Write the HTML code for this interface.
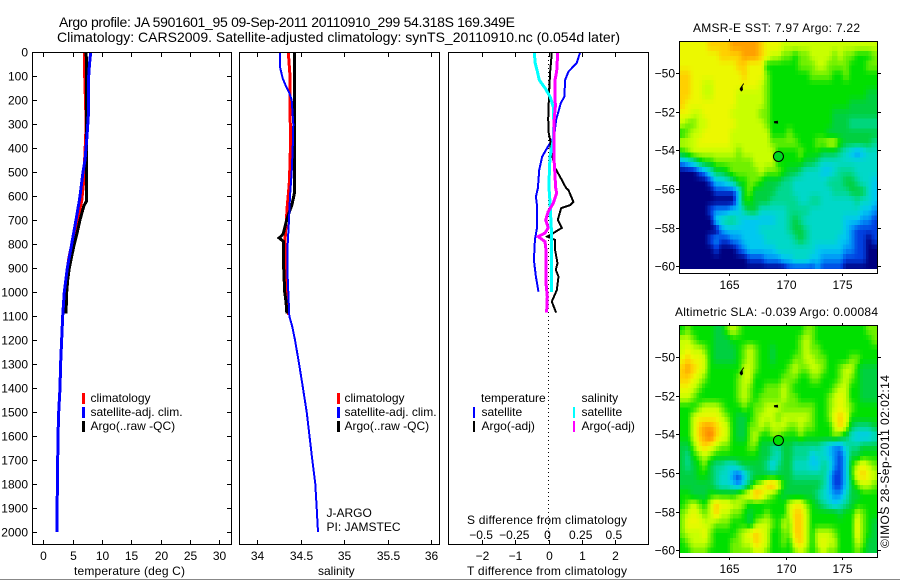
<!DOCTYPE html>
<html>
<head>
<meta charset="utf-8">
<title>Argo profile</title>
<style>
html,body{margin:0;padding:0;background:#fff;width:900px;height:580px;overflow:hidden}
svg{display:block;position:absolute;left:0;top:0}
text{font-family:"Liberation Sans",sans-serif;font-size:12px;fill:#000}
.title{font-size:14px}
.frame{fill:none;stroke:#000;stroke-width:1;shape-rendering:crispEdges}
.key{shape-rendering:crispEdges}
</style>
</head>
<body>
<svg id="fig" width="900" height="580" viewBox="0 0 900 580" xmlns="http://www.w3.org/2000/svg">
  <rect x="0" y="579" width="900" height="1" fill="#888"/>
  <text class="title" x="59" y="27" textLength="456" lengthAdjust="spacing">Argo profile: JA 5901601_95 09-Sep-2011 20110910_299 54.318S 169.349E</text>
  <text class="title" x="57" y="42" textLength="563" lengthAdjust="spacing">Climatology: CARS2009. Satellite-adjusted climatology: synTS_20110910.nc (0.054d later)</text>

  <g id="series"></g>
  <g id="maps"></g>
  <g id="ticks"></g>

  <rect class="frame" x="32.5" y="52.5" width="199" height="492"/>
  <rect class="frame" x="239.5" y="52.5" width="200" height="492"/>
  <rect class="frame" x="448.5" y="52.5" width="200" height="492"/>
  <rect class="frame" x="679.5" y="41.5" width="198" height="232"/>
  <rect class="frame" x="679.5" y="325.5" width="198" height="232"/>

  <text x="74" y="575" textLength="111" lengthAdjust="spacing">temperature (deg C)</text>
  <text x="318" y="575">salinity</text>
  <text x="467" y="524" textLength="160" lengthAdjust="spacing">S difference from climatology</text>
  <text x="467" y="575" textLength="160" lengthAdjust="spacing">T difference from climatology</text>

  <g>
    <rect class="key" x="82" y="393" width="3" height="11" fill="#f00"/>
    <text x="90.5" y="402">climatology</text>
    <rect class="key" x="82" y="407" width="3" height="11" fill="#00f"/>
    <text x="90.5" y="416">satellite-adj. clim.</text>
    <rect class="key" x="82" y="421" width="3" height="11" fill="#000"/>
    <text x="90.5" y="430">Argo(..raw -QC)</text>
  </g>
  <g>
    <rect class="key" x="337" y="393" width="3" height="11" fill="#f00"/>
    <text x="344.5" y="402">climatology</text>
    <rect class="key" x="337" y="407" width="3" height="11" fill="#00f"/>
    <text x="344.5" y="416">satellite-adj. clim.</text>
    <rect class="key" x="337" y="421" width="3" height="11" fill="#000"/>
    <text x="344.5" y="430">Argo(..raw -QC)</text>
  </g>
  <text x="326.5" y="517">J-ARGO</text>
  <text x="326.5" y="531">PI: JAMSTEC</text>
  <g>
    <text x="481" y="402">temperature</text>
    <rect class="key" x="473" y="407" width="2" height="11" fill="#00f"/>
    <text x="481.5" y="416">satellite</text>
    <rect class="key" x="473" y="421" width="2" height="11" fill="#000"/>
    <text x="481.5" y="430">Argo(-adj)</text>
    <text x="581.5" y="402">salinity</text>
    <rect class="key" x="573" y="407" width="2" height="11" fill="#0ff"/>
    <text x="581.5" y="416">satellite</text>
    <rect class="key" x="573" y="421" width="2" height="11" fill="#f0f"/>
    <text x="581.5" y="430">Argo(-adj)</text>
  </g>

  <text x="693" y="32" textLength="167" lengthAdjust="spacing">AMSR-E SST: 7.97 Argo: 7.22</text>
  <text x="675" y="316" textLength="203" lengthAdjust="spacing">Altimetric SLA: -0.039 Argo: 0.00084</text>
  <text transform="translate(889 548) rotate(-90)" textLength="173" lengthAdjust="spacing">©IMOS 28-Sep-2011 02:02:14</text>
</svg>

<script>
// ---------- profile data ----------
const depthTicks = [0,100,200,300,400,500,600,700,800,900,1000,1100,1200,1300,1400,1500,1600,1700,1800,1900,2000];
const tempTicks = [0,5,10,15,20,25,30];
const salTicks = [34,34.5,35,35.5,36];
const salTickLabels = ['34','34.5','35','35.5','36'];
const diffTTicks = [-2,-1,0,1,2];
const diffTTickLabels = ['\u22122','\u22121','0','1','2'];
const diffSTicks = [-0.5,-0.25,0,0.25,0.5];
const diffSTickLabels = ['\u22120.5','\u22120.25','0','0.25','0.5'];

const tempClimDepth = [0,100,300,533,620,700,783,867,992,1090];
const tempClimValues = [7.05,7.05,7.3,6.9,6.55,5.85,5.0,4.27,3.85,3.7];
const tempArgoDepth = [0,100,300,500,620,640,660,700,750,800,850,900,950,1000,1090];
const tempArgoValues = [7.3,7.36,7.36,7.36,7.4,6.93,6.7,6.25,5.8,5.28,4.84,4.43,4.16,3.99,3.87];
const tempSatDepth = [0,50,100,240,350,400,450,500,550,600,620,700,800,900,1000,1100,1300,1400,1500,1600,1700,1800,1900,2000];
const tempSatValues = [8.07,7.87,7.73,7.73,7.44,7.27,7.1,6.76,6.5,6.25,6.13,5.57,4.84,4.09,3.58,3.3,2.95,2.85,2.62,2.5,2.45,2.42,2.33,2.33];

const salClimDepth = [0,100,400,533,562,640,725,783,1033,1096];
const salClimValues = [34.356,34.376,34.38,34.37,34.364,34.345,34.33,34.318,34.345,34.36];
const salArgoDepth = [0,590,610,640,670,700,740,760,775,790,900,1000,1040,1090];
const salArgoValues = [34.425,34.425,34.414,34.395,34.364,34.338,34.31,34.295,34.25,34.303,34.303,34.315,34.33,34.34];
const salSatDepth = [0,61,80,110,140,170,200,300,400,500,600,700,800,900,1000,1100,1145,1200,1300,1375,1500,1600,1700,1800,1900,2000];
const salSatValues = [34.26,34.26,34.272,34.292,34.326,34.368,34.395,34.414,34.407,34.395,34.376,34.364,34.349,34.345,34.356,34.368,34.402,34.433,34.48,34.514,34.568,34.6,34.632,34.667,34.683,34.698];

const diffTSatDepth = [3,46,82,117,186,213,283,353,395,436,492,567,603,645,728,783,867,936,999];
const diffTSatValues = [0.95,0.85,0.6,0.5,0.48,0.37,0.23,0.17,-0.02,-0.19,-0.28,-0.32,-0.38,-0.34,-0.34,-0.41,-0.44,-0.38,-0.3];
const diffTArgoDepth = [3,80,158,277,333,367,408,483,533,567,575,624,638,651,700,733,754,769,783,825,880,908,936,992,1040,1086];
const diffTArgoValues = [0.1,0.05,0.02,-0.01,0,0.05,0.07,0.2,0.4,0.53,0.6,0.75,0.65,0.38,0.28,0.4,0.15,-0.04,0.2,0.2,0.27,0.22,0.3,0.25,0.1,0.23];
const diffSSatDepth = [3,46,80,117,150,186,228,297,367,436,506,567,624,769,999];
const diffSSatValues = [-0.107,-0.1,-0.084,-0.069,-0.026,0.011,0.036,0.041,0.036,0.011,0.006,0.004,0.011,0.024,0.024];
const diffSArgoDepth = [3,80,117,228,297,367,436,567,588,630,665,700,733,754,769,790,825,963,1020,1086];
const diffSArgoValues = [0.069,0.062,0.049,0.051,0.041,0.041,0.041,0.054,0.062,0.036,-0.002,-0.021,-0.002,-0.026,-0.077,-0.026,-0.019,-0.019,-0.009,-0.014];

// ---------- map data ----------
const mapLonTicks = [165,170,175];
const mapLatTicks = [-50,-52,-54,-56,-58,-60];
const argoLon = 169.349;
const argoLat = -54.318;
const sstArgoLevel = 6.5;
const slaArgoLevel = 7;
const islandALon = [166.26,166.3,166.17,166.21,166.04,165.9,166.04];
const islandALat = [-50.52,-50.57,-50.67,-50.88,-50.96,-50.83,-50.7];
const islandBLon = [168.95,169.3,169.32,168.97];
const islandBLat = [-52.5,-52.47,-52.62,-52.6];

const gridLonStart = 160.58, gridLatStart = -48.36, gridStep = 0.5, gridLatEnd = -60.13;
const levelColors = ['#000080','#0040e0','#0090f8','#00c8f0','#00d8c8','#00d890','#00d040','#00e000','#70f000','#c8ff00','#ecf800','#ffd000','#ffa000','#ff8000'];

const sstGrid = [
[10,10,10,10,10,11,11,11,11,12,12,12,12,12,11,10,10,10,9,9,9,9,9,9,9,9,9,9,9,9,9,9,9,9,9],
[10,10,10,10,10,10,10,11,11,11,11,12,12,12,11,10,9,9,8,8,7,8,8,9,9,9,9,8,9,8,8,7,7,7,8],
[10,10,10,10,10,10,10,10,10,10,11,11,10,10,10,7,7,7,7,7,7,8,8,8,9,9,8,8,8,8,7,7,7,8,8],
[11,11,10,10,10,10,10,10,10,10,10,11,10,10,10,8,7,7,7,7,7,7,7,8,8,8,8,7,7,8,7,7,7,7,7],
[11,11,10,10,9,9,10,10,10,10,10,10,10,10,9,8,7,7,7,7,7,7,7,7,7,7,7,7,7,7,7,7,7,7,7],
[11,11,10,10,9,9,10,10,10,10,9,9,9,9,9,8,7,7,7,7,7,7,7,7,7,7,7,7,7,7,7,7,7,6,6],
[11,10,10,10,10,10,10,10,10,10,9,9,9,9,9,8,7,7,7,7,7,7,7,7,7,7,7,7,7,7,6,6,6,6,6],
[10,10,9,9,10,10,10,10,10,9,9,9,9,9,8,8,7,7,7,7,7,7,7,7,7,7,7,6,6,6,6,6,6,6,6],
[9,8,8,9,9,10,10,10,10,10,9,9,9,9,9,8,7,7,7,7,7,7,7,7,7,7,7,6,6,6,5,5,5,5,5],
[7,8,9,9,10,10,10,10,10,9,9,9,9,9,9,9,7,7,7,8,7,7,7,7,7,7,6,6,6,6,6,6,6,6,6],
[9,9,9,10,10,10,10,10,10,9,9,9,9,9,9,9,8,8,8,8,8,7,7,7,8,8,9,9,7,6,6,6,6,6,5],
[7,8,9,9,9,9,9,9,9,9,8,9,9,9,9,9,9,7,7,7,7,8,7,7,7,6,6,6,5,4,3,2,3,4,4],
[2,3,4,6,7,7,8,8,8,8,8,8,8,9,9,9,9,7,7,7,7,7,6,6,5,4,4,4,4,4,4,4,4,4,4],
[0,0,0,1,2,4,6,6,7,8,8,8,8,8,9,8,8,8,7,6,6,5,4,4,4,3,3,4,5,5,5,4,4,4,4],
[0,0,0,0,0,1,3,3,4,5,7,7,8,8,7,6,6,6,5,5,4,4,4,4,4,4,5,5,5,6,6,5,4,4,3],
[0,0,0,0,0,0,1,1,1,1,3,7,8,6,6,6,6,5,5,5,4,4,4,4,4,4,4,5,5,5,6,6,6,4,3],
[0,0,0,0,0,0,0,0,0,0,3,7,7,6,6,6,5,5,5,5,5,4,4,5,5,4,4,4,4,4,4,5,4,4,3],
[0,0,0,0,0,1,2,2,2,3,3,5,6,6,4,4,4,4,4,5,5,5,5,4,4,4,4,4,4,4,4,4,3,3,2],
[0,0,0,0,0,0,3,4,5,5,4,3,3,3,3,3,3,4,4,5,6,5,4,4,4,4,4,4,4,3,3,3,2,2,1],
[0,0,0,0,0,0,0,2,3,3,3,3,3,3,4,4,4,4,4,5,6,6,5,4,4,4,4,4,4,3,2,1,1,1,1],
[0,0,0,0,0,1,2,1,1,2,2,3,3,3,3,4,4,4,4,4,5,6,5,4,4,4,4,4,3,3,2,1,1,0,1],
[0,0,0,0,0,0,1,0,0,0,1,2,3,3,3,3,3,4,4,4,4,4,4,4,3,3,3,3,3,2,2,1,1,0,0],
[0,0,0,0,0,0,0,0,0,0,0,0,1,1,1,2,2,2,3,3,4,4,4,3,3,2,2,2,2,1,1,1,1,0,0],
[0,0,0,0,0,0,0,0,0,0,0,0,0,0,0,0,0,0,0,1,1,1,1,1,2,1,1,1,1,0,0,0,0,0,0]
];

const slaGrid = [
[7,8,7,7,7,7,6,6,8,9,8,7,7,7,7,7,7,7,7,7,7,7,8,8,7,7,7,7,7,7,7,7,7,8,8],
[9,9,8,7,7,7,6,6,6,7,7,7,7,7,7,7,7,7,7,7,7,8,9,8,7,7,7,7,7,7,7,7,7,7,8],
[9,10,9,9,8,7,6,6,6,6,7,8,9,8,7,7,6,7,7,7,7,8,9,8,8,7,7,7,7,7,7,7,7,7,7],
[10,11,10,10,9,7,6,6,6,6,7,8,9,8,7,7,6,7,7,7,8,8,9,9,8,8,7,7,7,7,8,8,7,7,7],
[11,12,11,10,9,7,7,7,7,7,7,9,9,8,7,7,7,7,7,8,9,8,8,9,9,8,7,7,8,9,9,7,6,6,6],
[11,11,10,9,8,7,7,7,7,7,8,9,9,7,7,7,7,7,8,8,8,7,7,8,8,7,7,7,8,9,8,7,6,6,6],
[10,10,9,8,7,7,7,7,7,7,8,9,8,7,7,8,8,8,9,8,7,7,7,7,7,7,7,8,9,9,7,7,6,6,6],
[9,9,8,7,7,7,7,7,7,7,8,9,8,7,8,8,8,8,9,8,8,7,7,7,7,7,8,9,10,9,7,7,6,6,6],
[7,7,7,8,9,9,9,8,7,7,7,8,7,8,8,9,9,9,8,8,8,8,8,8,7,7,8,9,10,9,8,7,7,7,7],
[7,7,9,10,10,10,10,9,8,7,6,6,7,8,9,9,9,8,9,9,9,9,9,8,7,7,8,10,11,10,7,7,7,7,7],
[7,7,9,11,12,12,11,10,9,7,6,6,8,8,9,8,9,9,9,8,8,9,8,8,7,7,7,9,11,9,6,5,5,5,6],
[7,7,9,11,12,13,11,10,9,7,6,6,8,9,7,7,8,8,7,7,7,8,7,7,7,7,7,8,7,6,4,3,3,3,4],
[6,6,8,10,11,10,9,8,8,7,7,7,8,8,6,6,5,5,6,6,5,5,5,5,5,4,3,2,2,4,5,5,6,6,6],
[6,5,7,8,9,8,7,7,7,7,7,7,7,7,6,6,5,4,6,6,5,5,5,3,4,4,3,2,1,3,6,6,7,7,7],
[6,5,6,7,8,6,5,5,4,4,5,6,6,6,6,5,3,5,6,6,4,4,4,3,3,5,4,2,1,3,7,9,10,9,8],
[6,6,6,7,7,6,5,4,4,2,1,3,5,6,6,6,6,6,6,6,5,5,5,5,5,5,3,1,1,3,7,10,11,10,9],
[6,6,6,6,6,6,5,4,4,3,2,4,6,8,9,11,12,10,7,6,6,6,6,6,6,5,3,1,1,3,6,8,9,9,8],
[7,7,6,6,6,7,7,7,7,7,8,9,10,12,11,9,8,7,6,6,6,6,6,6,5,4,3,2,2,4,6,6,7,7,7],
[7,8,9,8,7,9,11,10,10,9,9,8,7,7,7,7,7,7,7,9,10,10,8,7,6,5,4,3,4,5,6,7,7,7,7],
[8,9,10,9,8,9,11,9,9,8,8,7,6,7,7,8,7,7,7,9,11,11,9,7,7,7,7,7,6,7,7,9,8,7,7],
[8,10,10,10,9,9,8,8,8,7,7,7,6,8,9,9,8,7,9,8,11,11,9,7,7,7,7,7,7,7,7,10,8,7,6],
[8,9,9,9,10,8,7,7,7,7,8,9,10,11,10,9,7,7,8,8,11,11,9,7,9,9,9,8,7,7,7,10,8,7,6],
[7,8,9,9,9,8,7,7,7,8,8,9,9,11,10,9,7,7,8,7,10,11,9,7,9,10,9,9,7,7,7,9,8,6,6],
[7,7,8,8,8,7,7,7,7,8,8,8,8,9,9,8,7,7,7,7,8,9,8,7,8,9,8,8,7,7,7,8,7,6,6]
];

// ---------- axis functions ----------
const yDepth = d => 52 + 0.24 * d;
const xTemp = t => 43.3 + 5.87 * t;
const xSal = s => 257.3 + 87 * (s - 34);
const xDiffT = t => 548.5 + 33.2 * t;
const xDiffS = s => 548.5 + 132.8 * s;
const mapX = lon => 729.3 + 11.3 * (lon - 165);
const sstY = lat => 73 + 19.33 * (-50 - lat);
const slaY = lat => 357 + 19.33 * (-50 - lat);

const NS = 'http://www.w3.org/2000/svg';
const seriesLayer = document.getElementById('series');
const mapLayer = document.getElementById('maps');
const tickLayer = document.getElementById('ticks');

function make(tag, attrs, parent) {
  const el = document.createElementNS(NS, tag);
  for (const k in attrs) el.setAttribute(k, attrs[k]);
  parent.appendChild(el);
  return el;
}

function profile(depths, values, xFn, color, width, name) {
  const pts = depths.map((d, i) => xFn(values[i]).toFixed(1) + ',' + yDepth(d).toFixed(1)).join(' ');
  const el = make('polyline', {points: pts, fill: 'none', stroke: color, 'stroke-width': width, 'shape-rendering': 'crispEdges'}, seriesLayer);
  
  
}

function tickLine(x1, y1, x2, y2, name) {
  const el = make('line', {x1: x1, y1: y1, x2: x2, y2: y2, stroke: '#000', 'stroke-width': 1, 'shape-rendering': 'crispEdges'}, tickLayer);
  
  
}

function tickText(x, y, str, anchor, name) {
  const el = make('text', {x: x, y: y, 'text-anchor': anchor}, tickLayer);
  el.textContent = str;
  
  
}

// ---------- dotted zero line ----------
const zeroLine = make('line', {x1: xDiffT(0), x2: xDiffT(0), y1: 52, y2: 545, stroke: '#000', 'stroke-width': 1, 'stroke-dasharray': '1 3', 'shape-rendering': 'crispEdges'}, seriesLayer);



// ---------- series ----------
profile(tempClimDepth, tempClimValues, xTemp, '#f00', 3, 'temperature-climatology-line');
profile(tempArgoDepth, tempArgoValues, xTemp, '#000', 3, 'temperature-argo-line');
profile(tempSatDepth, tempSatValues, xTemp, '#00f', 3, 'temperature-satellite-line');
profile(salClimDepth, salClimValues, xSal, '#f00', 3, 'salinity-climatology-line');
profile(salArgoDepth, salArgoValues, xSal, '#000', 3, 'salinity-argo-line');
profile(salSatDepth, salSatValues, xSal, '#00f', 2, 'salinity-satellite-line');
profile(diffTSatDepth, diffTSatValues, xDiffT, '#00f', 2, 'difference-t-satellite-line');
profile(diffTArgoDepth, diffTArgoValues, xDiffT, '#000', 2, 'difference-t-argo-line');
profile(diffSSatDepth, diffSSatValues, xDiffS, '#0ff', 3, 'difference-s-satellite-line');
profile(diffSArgoDepth, diffSArgoValues, xDiffS, '#f0f', 3, 'difference-s-argo-line');

// ---------- panel ticks ----------
depthTicks.forEach(d => {
  const y = Math.round(yDepth(d)) + 0.5;
  tickLine(32, y, 37, y, 'depth-tick-left');
  tickLine(227, y, 232, y, 'depth-tick-right');
  tickText(28, y + 4, String(d), 'end', 'depth-tick-label');
});
tempTicks.forEach(t => {
  const x = Math.round(xTemp(t)) + 0.5;
  tickLine(x, 52, x, 57, 'temperature-tick-top');
  tickLine(x, 540, x, 545, 'temperature-tick-bottom');
  tickText(x, 560, String(t), 'middle', 'temperature-tick-label');
});
salTicks.forEach((s, i) => {
  const x = Math.round(xSal(s)) + 0.5;
  tickLine(x, 52, x, 57, 'salinity-tick-top');
  tickLine(x, 540, x, 545, 'salinity-tick-bottom');
  tickText(x, 560, salTickLabels[i], 'middle', 'salinity-tick-label');
});
diffTTicks.forEach((t, i) => {
  const x = Math.round(xDiffT(t)) + 0.5;
  tickLine(x, 52, x, 57, 'difference-tick-top');
  tickLine(x, 540, x, 545, 'difference-tick-bottom');
  tickText(x, 560, diffTTickLabels[i], 'middle', 'difference-t-tick-label');
});
diffSTicks.forEach((s, i) => {
  tickText(xDiffS(s) - 1, 539, diffSTickLabels[i], 'middle', 'difference-s-tick-label');
});

// ---------- maps ----------
function hexChannel(hex, i) {
  return parseInt(hex.substr(1 + 2 * i, 2), 16);
}

function levelColor(level) {
  const lo = Math.max(0, Math.min(levelColors.length - 1, Math.floor(level)));
  const hi = Math.min(levelColors.length - 1, lo + 1);
  const f = Math.max(0, Math.min(1, level - lo));
  const parts = [0, 1, 2].map(i => Math.round(hexChannel(levelColors[lo], i) * (1 - f) + hexChannel(levelColors[hi], i) * f));
  return 'rgb(' + parts.join(',') + ')';
}

function gridSample(grid, r, c) {
  const rr = Math.max(0, Math.min(grid.length - 1, r));
  const cc = Math.max(0, Math.min(grid[0].length - 1, c));
  const r0 = Math.floor(rr), c0 = Math.floor(cc);
  const r1 = Math.min(grid.length - 1, r0 + 1), c1 = Math.min(grid[0].length - 1, c0 + 1);
  const fr = rr - r0, fc = cc - c0;
  return (grid[r0][c0] * (1 - fc) + grid[r0][c1] * fc) * (1 - fr) + (grid[r1][c0] * (1 - fc) + grid[r1][c1] * fc) * fr;
}

function drawMap(grid, yFn, top, bottom, argoLevel, prefix) {
  const sub = 2;
  for (let r = 0; r < grid.length * sub; r++) {
    const latA = gridLatStart - r * gridStep / sub;
    if (latA <= gridLatEnd) continue;
    const latB = Math.max(latA - gridStep / sub, gridLatEnd);
    const y0 = yFn(latA), y1 = yFn(latB);
    for (let c = 0; c < grid[0].length * sub; c++) {
      const lon = gridLonStart + c * gridStep / sub;
      const x0 = mapX(lon), x1 = mapX(lon + gridStep / sub);
      const level = gridSample(grid, (r + 0.5) / sub - 0.5, (c + 0.5) / sub - 0.5);
      const cell = make('rect', {x: x0.toFixed(2), y: y0.toFixed(2), width: (x1 - x0 + 0.3).toFixed(2), height: (y1 - y0 + 0.3).toFixed(2), fill: levelColor(level), 'shape-rendering': 'crispEdges'}, mapLayer);
      
      
    }
  }
  const islandA = make('polygon', {points: islandALon.map((lon, i) => mapX(lon).toFixed(1) + ',' + yFn(islandALat[i]).toFixed(1)).join(' '), fill: '#000'}, mapLayer);
  
  
  const islandB = make('polygon', {points: islandBLon.map((lon, i) => mapX(lon).toFixed(1) + ',' + yFn(islandBLat[i]).toFixed(1)).join(' '), fill: '#000'}, mapLayer);
  
  
  const marker = make('circle', {cx: mapX(argoLon), cy: yFn(argoLat), r: 5, fill: levelColor(argoLevel), stroke: '#000', 'stroke-width': 1}, mapLayer);
  
  

  mapLonTicks.forEach(lon => {
    const x = Math.round(mapX(lon)) + 0.5;
    tickLine(x, top - 3, x, top, prefix + '-lon-tick-top');
    tickLine(x, bottom, x, bottom + 3, prefix + '-lon-tick-bottom');
    tickText(x, bottom + 16, String(lon), 'middle', prefix + '-lon-tick-label');
  });
  mapLatTicks.forEach(lat => {
    const y = Math.round(yFn(lat)) + 0.5;
    tickLine(676, y, 679, y, prefix + '-lat-tick-left');
    tickLine(878, y, 881, y, prefix + '-lat-tick-right');
    tickText(675, y + 4, '\u2212' + Math.abs(lat), 'end', prefix + '-lat-tick-label');
  });
}
drawMap(sstGrid, sstY, 42, 273, sstArgoLevel, 'sst-map');
drawMap(slaGrid, slaY, 326, 557, slaArgoLevel, 'sla-map');
</script>
</body>
</html>
